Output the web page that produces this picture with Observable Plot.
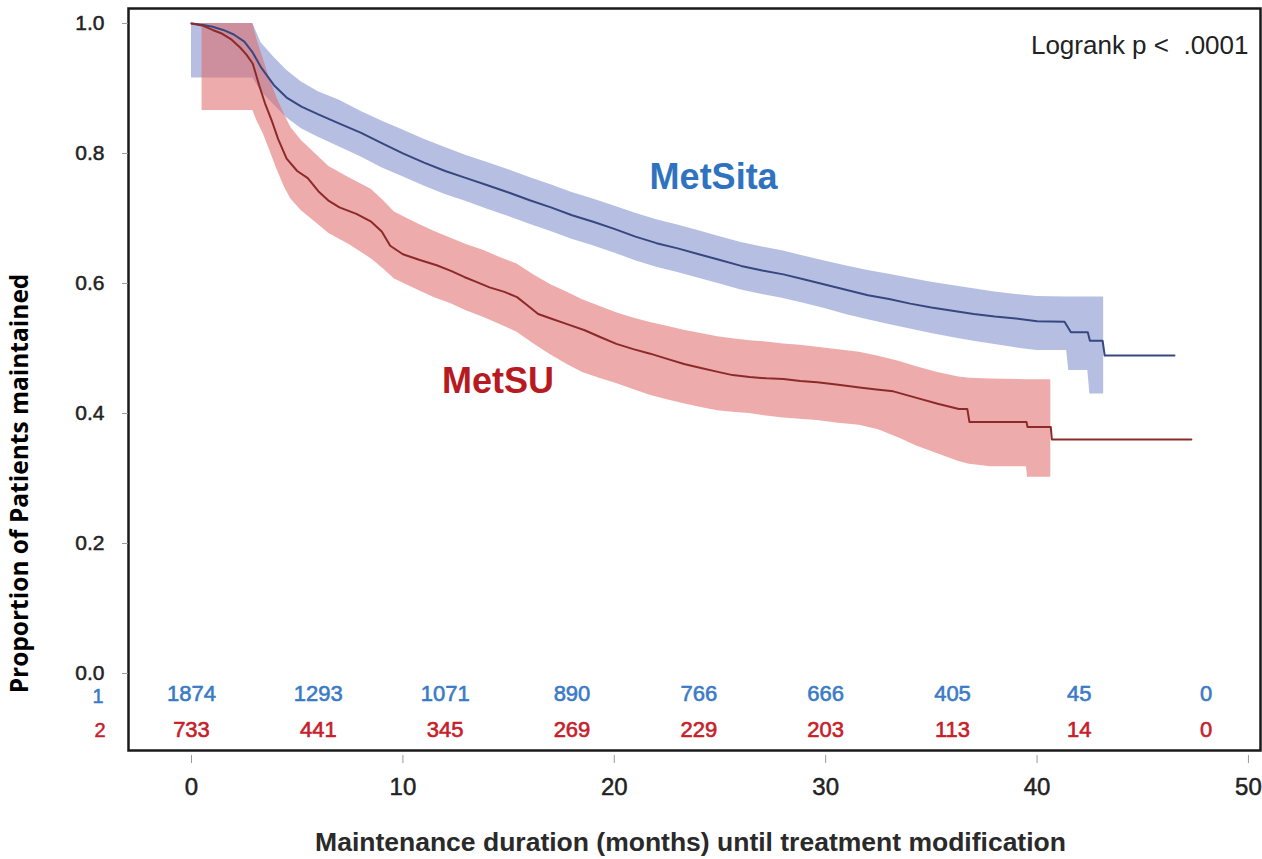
<!DOCTYPE html>
<html>
<head>
<meta charset="utf-8">
<script src="https://cdn.jsdelivr.net/npm/d3@7"></script>
<script src="https://cdn.jsdelivr.net/npm/@observablehq/plot@0.6"></script>
<style>
  body { margin: 0; background: #fff; }
  #chart svg { display: block; }
</style>
</head>
<body>
<div id="chart"></div>
<script>
// Kaplan–Meier estimates, [month, proportion maintained]
const metSitaCurve = [
  [0, 1.000], [0.5, 0.998], [1, 0.995], [1.5, 0.990], [2, 0.983], [2.5, 0.972], [2.9, 0.955],
  [3.3, 0.932], [3.9, 0.905], [4.5, 0.886], [5.2, 0.872], [6, 0.860], [7, 0.846], [8, 0.832],
  [9, 0.816], [10, 0.800], [11, 0.786], [12, 0.773], [13, 0.762], [14, 0.751], [15, 0.740],
  [16, 0.728], [17, 0.717], [18, 0.705], [19, 0.695], [20, 0.684], [21, 0.672], [22, 0.662],
  [23, 0.654], [24, 0.645], [25, 0.636], [26, 0.627], [27, 0.620], [28, 0.614], [29, 0.606],
  [30, 0.598], [31, 0.590], [32, 0.582], [33, 0.576], [34, 0.569], [35, 0.563], [36, 0.558],
  [37, 0.553], [38, 0.549], [39, 0.546], [40, 0.542], [41.3, 0.541], [41.6, 0.525], [42.4, 0.525],
  [42.5, 0.512], [43.1, 0.512], [43.2, 0.489], [46.5, 0.489]
];
const metSuCurve = [
  [0, 1.000], [0.5, 0.997], [1, 0.990], [1.4, 0.985], [1.9, 0.975], [2.3, 0.963], [2.6, 0.952],
  [2.9, 0.938], [3.2, 0.905], [3.5, 0.875], [3.8, 0.850], [4.1, 0.822], [4.5, 0.792], [5, 0.773],
  [5.5, 0.762], [6, 0.742], [6.5, 0.727], [7, 0.717], [7.8, 0.707], [8.5, 0.695], [9, 0.680],
  [9.4, 0.658], [10, 0.645], [10.8, 0.636], [11.6, 0.628], [12.3, 0.619], [12.9, 0.610],
  [13.5, 0.602], [14.1, 0.594], [14.8, 0.587], [15.4, 0.579], [15.9, 0.566], [16.4, 0.553],
  [17, 0.546], [17.8, 0.537], [18.6, 0.528], [19.3, 0.518], [20.1, 0.507], [20.9, 0.499],
  [21.7, 0.492], [22.5, 0.484], [23.3, 0.476], [24.1, 0.470], [24.9, 0.464], [25.6, 0.459],
  [26.4, 0.456], [27.2, 0.454], [28, 0.453], [28.8, 0.450], [29.6, 0.448], [30.6, 0.444],
  [31.6, 0.440], [32.4, 0.437], [33.2, 0.434], [34.3, 0.424], [35.3, 0.415], [36.3, 0.407],
  [36.7, 0.407], [36.8, 0.387], [39.5, 0.387], [39.55, 0.379], [40.65, 0.379], [40.7, 0.360],
  [47.3, 0.360]
];

// Confidence bands, [month, lower, upper]
const metSitaBand = [
  [0, 0.916, 1.000], [2.9, 0.916, 1.000], [3.3, 0.895, 0.970], [3.9, 0.875, 0.948],
  [4.5, 0.855, 0.928], [5.2, 0.838, 0.910], [6, 0.825, 0.895], [7, 0.810, 0.882],
  [8, 0.795, 0.865], [9, 0.778, 0.850], [10, 0.764, 0.836], [11, 0.750, 0.822],
  [12, 0.737, 0.809], [13, 0.726, 0.797], [14, 0.714, 0.786], [15, 0.703, 0.775],
  [16, 0.691, 0.763], [17, 0.680, 0.752], [18, 0.668, 0.740], [19, 0.658, 0.730],
  [20, 0.647, 0.719], [21, 0.635, 0.708], [22, 0.625, 0.698], [23, 0.617, 0.690],
  [24, 0.608, 0.681], [25, 0.599, 0.672], [26, 0.590, 0.663], [27, 0.583, 0.656],
  [28, 0.577, 0.650], [29, 0.569, 0.642], [30, 0.561, 0.634], [31, 0.552, 0.627],
  [32, 0.544, 0.620], [33, 0.537, 0.614], [34, 0.530, 0.608], [35, 0.523, 0.602],
  [36, 0.517, 0.597], [37, 0.511, 0.592], [38, 0.506, 0.587], [39, 0.501, 0.583],
  [40, 0.497, 0.580], [41.4, 0.497, 0.579], [41.5, 0.466, 0.579], [42.4, 0.466, 0.579],
  [42.5, 0.430, 0.579], [43.15, 0.430, 0.579]
];
const metSuBand = [
  [0.5, 0.866, 1.000], [2.9, 0.866, 1.000], [3.1, 0.850, 0.975], [3.4, 0.830, 0.945],
  [3.7, 0.805, 0.915], [4.05, 0.775, 0.885], [4.4, 0.748, 0.860], [4.7, 0.730, 0.840],
  [5.2, 0.712, 0.820], [5.95, 0.692, 0.797], [6.5, 0.677, 0.780], [7.5, 0.659, 0.762],
  [8.5, 0.638, 0.745], [9.1, 0.622, 0.727], [9.6, 0.607, 0.710], [10.7, 0.590, 0.692],
  [11.5, 0.578, 0.680], [12.25, 0.569, 0.670], [13, 0.558, 0.660], [13.8, 0.548, 0.651],
  [14.6, 0.537, 0.640], [15.4, 0.525, 0.630], [16.2, 0.507, 0.613], [17, 0.490, 0.598],
  [17.8, 0.475, 0.586], [18.5, 0.463, 0.575], [19.3, 0.454, 0.565], [20.1, 0.446, 0.555],
  [20.9, 0.437, 0.547], [21.7, 0.428, 0.540], [22.5, 0.421, 0.534], [23.3, 0.415, 0.528],
  [24.1, 0.409, 0.523], [24.9, 0.404, 0.518], [25.6, 0.402, 0.515], [26.4, 0.400, 0.512],
  [27.2, 0.396, 0.510], [28, 0.393, 0.507], [28.8, 0.391, 0.505], [29.6, 0.389, 0.502],
  [30.6, 0.385, 0.498], [31.6, 0.382, 0.494], [32.5, 0.375, 0.488], [33.5, 0.362, 0.480],
  [34.3, 0.350, 0.472], [35.3, 0.338, 0.463], [36.3, 0.326, 0.456], [36.8, 0.322, 0.454],
  [37.8, 0.318, 0.453], [39.5, 0.318, 0.452], [39.55, 0.302, 0.452], [40.65, 0.302, 0.452]
];

// Number at risk (1 = MetSita, 2 = MetSU)
const riskMonths = [0, 6, 12, 18, 24, 30, 36, 42, 48];
const atRiskSita = [1874, 1293, 1071, 890, 766, 666, 405, 45, 0];
const atRiskSu = [733, 441, 345, 269, 229, 203, 113, 14, 0];

// Axis ticks and labels
const xTicks = [0, 10, 20, 30, 40, 50];
const yTicks = [0, 0.2, 0.4, 0.6, 0.8, 1.0];
const seriesNames = ["MetSita", "MetSU"];
const seriesLabelMonth = [24.7, 14.5];
const seriesLabelLevel = [0.763, 0.449];
const xTitle = "Maintenance duration (months) until treatment modification";
const yTitle = "Proportion of Patients maintained";
const testNote = "Logrank p <\u00a0\u00a0.0001";

const FONT = "'Liberation Sans', Arial, sans-serif";
const BLUE_TEXT = "#2f73c0", RED_TEXT = "#b81a22";
const BLUE_NUM = "#3a7bc6", RED_NUM = "#c62029";

const curvePts = (rows) => rows.map(([t, s]) => ({t, s}));
const bandPts = (rows) => rows.map(([t, lo, hi]) => ({t, lo, hi}));
const riskRows = (counts) => riskMonths.map((t, i) => ({t, n: String(counts[i])}));
const labels = seriesNames.map((name, i) => ({name, t: seriesLabelMonth[i], s: seriesLabelLevel[i]}));

const numStyle = {fontSize: 22, fontFamily: FONT, strokeWidth: 0.6};
const rowStyle = {fontSize: 20, fontFamily: FONT, strokeWidth: 0.5};

const chart = Plot.plot({
  width: 1262,
  height: 859,
  marginLeft: 128,
  marginRight: 2,
  marginTop: 8,
  marginBottom: 109,
  style: {fontFamily: FONT, background: "#fff", overflow: "visible"},
  x: {domain: [-2.98, 50.57], label: null},
  y: {domain: [-0.1185, 1.023], label: null},
  marks: [
    Plot.areaY(bandPts(metSitaBand), {x: "t", y1: "lo", y2: "hi", fill: "#9eaad8", fillOpacity: 0.75}),
    Plot.areaY(bandPts(metSuBand), {x: "t", y1: "lo", y2: "hi", fill: "#e06666", fillOpacity: 0.55}),
    Plot.line(curvePts(metSitaCurve), {x: "t", y: "s", stroke: "#37477f", strokeWidth: 2}),
    Plot.line(curvePts(metSuCurve), {x: "t", y: "s", stroke: "#8c2a2a", strokeWidth: 2}),
    Plot.frame({stroke: "#1a1a1a", strokeWidth: 2.5}),
    Plot.axisY({ticks: yTicks, tickFormat: d3.format(".1f"), tickSize: 6, tickPadding: 18,
      stroke: "#999", color: "#222", fontSize: 21, textStroke: "#222", textStrokeWidth: 0.5}),
    Plot.axisX({ticks: xTicks, tickFormat: d3.format("d"), tickSize: 8, tickPadding: 14, dy: 5,
      stroke: "#999", color: "#222", fontSize: 24, textStroke: "#222", textStrokeWidth: 0.5}),
    // number-at-risk table inside the frame
    Plot.text(riskRows(atRiskSita), {x: "t", text: "n", frameAnchor: "bottom", dy: -50,
      fill: BLUE_NUM, stroke: BLUE_NUM, ...numStyle}),
    Plot.text(riskRows(atRiskSu), {x: "t", text: "n", frameAnchor: "bottom", dy: -14,
      fill: RED_NUM, stroke: RED_NUM, ...numStyle}),
    Plot.text(["1"], {text: d => d, frameAnchor: "bottom-left", textAnchor: "end", dx: -25, dy: -48,
      fill: BLUE_NUM, stroke: BLUE_NUM, ...rowStyle}),
    Plot.text(["2"], {text: d => d, frameAnchor: "bottom-left", textAnchor: "end", dx: -23, dy: -14,
      fill: RED_NUM, stroke: RED_NUM, ...rowStyle}),
    // series labels
    Plot.text(labels, {x: "t", y: "s", text: "name", fontSize: 36, fontWeight: "bold", fontFamily: FONT,
      fill: (d) => d.name === "MetSita" ? BLUE_TEXT : RED_TEXT}),
    // test annotation and axis titles
    Plot.text([testNote], {text: d => d, frameAnchor: "top-right", textAnchor: "end", dx: -12, dy: 27,
      fontSize: 26, fill: "#222", fontFamily: FONT}),
    Plot.text([xTitle], {text: d => d, frameAnchor: "bottom", textAnchor: "middle", dx: -4, dy: 100,
      fontSize: 26.5, fontWeight: "bold", fill: "#2a2a2a", fontFamily: FONT}),
    Plot.text([yTitle], {text: d => d, frameAnchor: "left", textAnchor: "middle", rotate: -90,
      dx: -108, dy: 104, fontSize: 24.5, fontWeight: "bold", fill: "#000",
      fontFamily: "'Open Sans', 'Noto Sans', sans-serif"})
  ]
});

document.getElementById("chart").appendChild(chart);
</script>
</body>
</html>
